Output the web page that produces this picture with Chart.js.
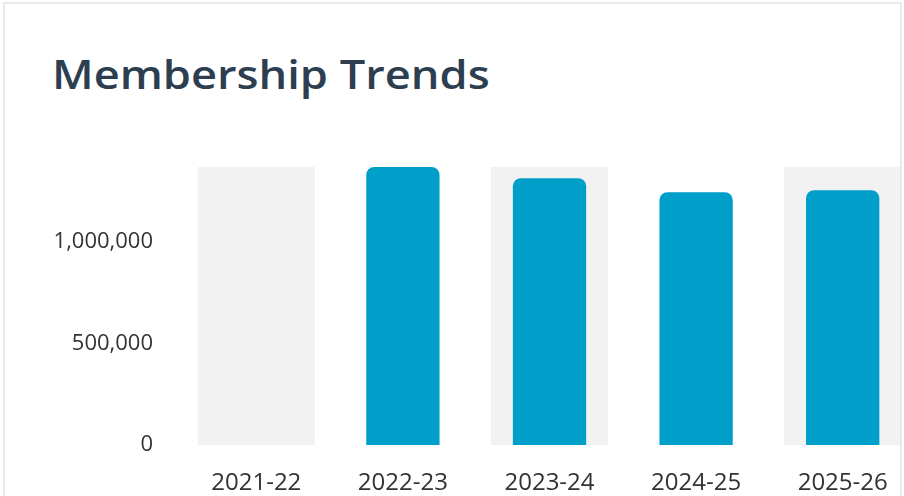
<!DOCTYPE html>
<html lang="en">

<head>
    <meta charset="UTF-8">
    <meta name="viewport" content="width=device-width, initial-scale=1.0">
    <title>Membership Trends</title>
    <script src="https://cdn.jsdelivr.net/npm/chart.js"></script>
    <style>
        body {
            margin: 0;
            overflow: hidden;
            background: #fff;
            font-family: "Open Sans", sans-serif;
        }

        .card {
            position: absolute;
            left: 3px;
            top: 2px;
            width: 895px;
            height: 520px;
            border: 2px solid #e9e9e9;
            overflow: hidden;
            background: #fff;
        }

        .card h2 {
            position: absolute;
            left: 47px;
            top: 50px;
            margin: 0;
            font-size: 40px;
            line-height: 40px;
            font-weight: 600;
            color: #2c3e50;
            white-space: nowrap;
            transform: scaleX(1.13);
            transform-origin: left center;
        }

        .chart-box {
            position: absolute;
            left: 0;
            top: 0;
            width: 940px;
            height: 492px;
        }
    </style>
</head>

<body>
    <div class="card">
        <h2>Membership Trends</h2>
        <div class="chart-box">
            <canvas id="membersChart"></canvas>
        </div>
    </div>

    <script>
        const seasons = ['2021-22', '2022-23', '2023-24', '2024-25', '2025-26'];
        const members = [null, 1370000, 1315000, 1246000, 1256000];
        const yTicks = [0, 500000, 1000000];

        // light grey column behind every other season
        const bandPlugin = {
            id: 'bands',
            beforeDatasetsDraw(chart) {
                const { ctx, chartArea, scales } = chart;
                const step = scales.x.getPixelForValue(1) - scales.x.getPixelForValue(0);
                const w = step * 0.8;
                ctx.save();
                ctx.fillStyle = '#f2f2f2';
                seasons.forEach((s, i) => {
                    if (i % 2 !== 0) return;
                    const cx = scales.x.getPixelForValue(i);
                    ctx.fillRect(cx - w / 2, chartArea.top, w, chartArea.bottom - chartArea.top);
                });
                ctx.restore();
            }
        };

        function drawChart() {
            const ctx = document.getElementById('membersChart').getContext('2d');
            const topValue = Math.max(...members.filter(v => v !== null));

            new Chart(ctx, {
                type: 'bar',
                data: {
                    labels: seasons,
                    datasets: [{
                        label: 'Members',
                        data: members,
                        backgroundColor: '#009fc9',
                        borderRadius: 8,
                        categoryPercentage: 1,
                        barPercentage: 0.5
                    }]
                },
                options: {
                    responsive: true,
                    maintainAspectRatio: false,
                    animation: false,
                    layout: {
                        padding: { top: 163, right: 29, left: 0, bottom: 0 }
                    },
                    scales: {
                        x: {
                            grid: { display: false, drawTicks: false },
                            border: { display: false },
                            ticks: {
                                color: '#333',
                                padding: 24,
                                font: { family: 'Open Sans', size: 24 }
                            },
                            afterFit(scale) {
                                scale.height = 51;
                            }
                        },
                        y: {
                            min: 0,
                            max: topValue,
                            grid: { display: false, drawTicks: false },
                            border: { display: false },
                            ticks: {
                                stepSize: 500000,
                                color: '#333',
                                padding: 30,
                                font: { family: 'Open Sans', size: 22 }
                            },
                            afterBuildTicks(scale) {
                                scale.ticks = yTicks.map(v => ({ value: v }));
                            },
                            afterFit(scale) {
                                scale.width = 178;
                            }
                        }
                    },
                    plugins: {
                        legend: { display: false },
                        tooltip: { enabled: false }
                    }
                },
                plugins: [bandPlugin]
            });
        }

        document.addEventListener("DOMContentLoaded", () => {
            drawChart();
        });
    </script>
</body>

</html>
